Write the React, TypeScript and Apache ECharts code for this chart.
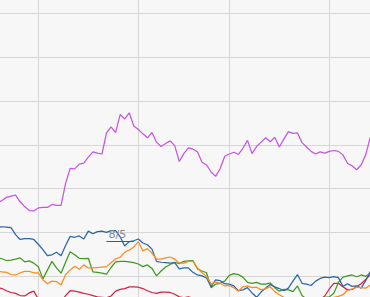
import React, { useEffect, useRef } from "react";
import * as echarts from "echarts";

// Trading days shown (Dec 18 2017 .. Apr 13 2018), weekends and holidays skipped
const firstDay = "2017-12-18";
const lastDay = "2018-04-13";
const holidays = ["2017-12-25", "2018-01-01"];

function tradingDays(): string[] {
  const out: string[] = [];
  const d = new Date(firstDay + "T00:00:00Z");
  const end = new Date(lastDay + "T00:00:00Z").getTime();
  while (d.getTime() <= end) {
    const wd = d.getUTCDay();
    const s = d.toISOString().slice(0, 10);
    if (wd !== 0 && wd !== 6 && holidays.indexOf(s) < 0) out.push(s);
    d.setUTCDate(d.getUTCDate() + 1);
  }
  return out;
}
const categories = tradingDays();

const purple = [
  16.7, 17.3, 18.0, 18.3, 18.5, 17.0, 15.9, 15.0, 14.9,
  15.6, 15.7, 15.7, 16.4, 16.2, 16.2, 21.2, 24.6, 24.5, 25.6,
  25.8, 27.2, 28.4, 28.1, 27.9, 32.7, 34.1, 32.8, 36.9, 35.9,
  37.3, 34.3, 33.5, 32.5, 31.6, 32.8, 30.6, 29.6, 30.3, 30.9,
  29.8, 26.2, 28.0, 29.3, 29.0, 28.4, 26.0, 25.4, 23.8, 22.8,
  24.6, 27.4, 27.9, 28.3, 27.8, 29.2, 31.0, 28.0, 29.6, 30.6,
  31.6, 30.7, 31.7, 29.5, 31.3, 33.0, 32.6, 32.7, 30.5, 29.5,
  28.5, 27.9, 28.4, 28.1, 28.5, 28.7, 28.5, 27.7, 25.8, 25.2,
  24.3, 25.4, 27.7, 31.7,
];

const blue = [
  11.3, 11.3, 11.2, 11.1, 9.5, 8.4, 8.6, 8.6, 8.4,
  7.3, 6.1, 4.7, 4.9, 5.5, 4.7, 7.0, 9.1, 8.9, 9.2,
  8.5, 10.3, 9.7, 10.2, 10.3, 10.0, 10.4, 10.4, 9.0, 6.9,
  7.9, 8.1, 8.5, 7.6, 7.2, 6.2, 3.4, 3.2, 3.1, 3.0,
  3.1, 1.7, 1.9, 1.9, 0.9, 0.3, 0.1, -0.4, -2.4, -0.8,
  -1.0, -1.7, -1.8, -2.2, -3.3, -3.1, -2.6, -3.8, -4.8, -3.6,
  -2.7, -1.9, -2.4, -2.8, -3.3, -2.7, -1.1, 0.4, -1.6, -1.8,
  -2.1, -1.1, -0.5, -0.2, -0.3, -0.1, -0.3, -2.3, -1.7, -2.3,
  -2.2, -2.7, -1.0, 1.1,
];

const orange = [
  1.1, 1.0, 0.9, 0.4, 0.3, 0.8, 1.1, 1.1, 0.8,
  0.8, -0.8, -1.7, -1.1, -1.2, -2.0, 0.4, 1.4, 2.3, 1.6,
  2.6, 1.9, 1.9, 2.0, 2.1, 2.2, 3.1, 4.0, 4.3, 5.5,
  6.0, 6.7, 7.9, 5.8, 6.3, 5.3, 3.9, 3.9, 4.2, 4.4,
  3.9, 3.0, 3.0, 3.4, 3.4, 1.9, 0.8, 0.0, -1.8, -1.3,
  -1.6, -2.2, -2.1, -2.6, -3.4, -2.4, -2.2, -2.6, -2.5, -3.1,
  -2.8, -2.4, -3.5, -4.2, -4.8, -5.2, -5.3, -5.1, -5.2, -5.4,
  -5.3, -5.1, -5.2, -5.1, -5.0, -4.8, -4.6, -4.2, -3.2, -2.9,
  -2.5, -2.6, -2.7, -2.0,
];

const green = [
  4.2, 4.0, 3.6, 3.7, 3.9, 4.2, 3.3, 3.5, 3.0,
  2.2, -0.6, 1.4, 3.4, 1.9, 0.7, 3.2, 5.6, 4.9, 4.1,
  4.0, 4.1, 1.0, 0.9, 0.7, 0.5, 2.0, 3.3, 3.4, 3.4,
  3.3, 3.1, 2.8, 2.2, 2.6, 1.8, 0.1, 1.2, 2.1, 2.7,
  3.2, 2.9, 3.4, 3.5, 3.6, 1.7, 1.2, 0.8, -2.6, -1.8,
  -1.6, -1.1, 0.2, 0.6, 0.4, -0.2, -1.4, -1.6, -1.4, -1.8,
  -1.8, -1.5, -2.6, -3.4, -3.0, -3.1, -3.5, -2.2, -4.4, -5.2,
  -5.4, -5.4, -5.2, -4.8, -4.7, -3.9, -1.4, -0.2, 0.1, 0.3,
  -0.1, 0.3, 0.0, 0.7,
];

const red = [
  -2.6, -2.8, -3.3, -3.7, -3.9, -4.4, -4.5, -3.8, -3.4,
  -5.2, -6.1, -6.5, -6.8, -6.5, -5.9, -4.4, -3.3, -3.4, -3.6,
  -3.9, -4.1, -4.4, -4.7, -4.8, -4.9, -4.5, -3.4, -3.0, -2.8,
  -2.4, -2.4, -2.5, -2.8, -3.3, -3.7, -3.9, -3.6, -3.6, -3.7,
  -4.1, -4.7, -4.9, -4.7, -5.0, -5.5, -6.0, -6.2, -6.3, -6.4,
  -6.5, -6.5, -6.5, -6.4, -6.3, -6.2, -6.2, -6.1, -6.2, -6.3,
  -6.4, -6.5, -6.5, -6.4, -6.3, -6.2, -6.1, -6.1, -6.0, -5.9,
  -5.7, -5.5, -5.3, -4.5, -2.9, -1.6, -1.6, -2.4, -3.1, -3.0,
  -2.4, -1.7, -0.7, 0.3,
];

// annotation segment on the blue series
const noteLabel = "8/5";
const noteStart = 24;
const noteEnd = 30;
const noteValue = 7.9;

const yMin = -10;
const yMax = 70;
const yStep = 10;

export default function App() {
  const ref = useRef<HTMLDivElement>(null);

  useEffect(() => {
    if (!ref.current) return;
    const chart = echarts.init(ref.current, undefined, { renderer: "svg" });
    const monthStart = (index: number) =>
      index > 0 &&
      categories[index].slice(0, 7) !== categories[index - 1].slice(0, 7);

    const mk = (name: string, data: number[], color: string, extra: any = {}) => ({
      name,
      type: "line",
      data,
      symbol: "none",
      showSymbol: false,
      lineStyle: { color, width: 1.25 },
      itemStyle: { color },
      emphasis: { disabled: true },
      ...extra,
    });

    chart.setOption({
      animation: false,
      backgroundColor: "#f7f7f7",
      grid: { left: 27.38, top: 9.5, width: 372.85, height: 350.6, containLabel: false },
      xAxis: {
        type: "category",
        data: categories,
        boundaryGap: false,
        axisLine: { show: false },
        axisTick: { show: false },
        axisLabel: { show: false },
        splitLine: {
          show: true,
          interval: (index: number) => monthStart(index),
          lineStyle: { color: "#d6d6d6", width: 1 },
        },
      },
      yAxis: {
        type: "value",
        min: yMin,
        max: yMax,
        interval: yStep,
        axisLine: { show: false },
        axisTick: { show: false },
        axisLabel: { show: false },
        splitLine: { show: true, lineStyle: { color: "#d6d6d6", width: 1 } },
      },
      series: [
        mk("E", red, "#d62040"),
        mk("D", green, "#3d9a1e"),
        mk("B", blue, "#2a66aa", {
          markLine: {
            symbol: "none",
            silent: true,
            animation: false,
            lineStyle: { color: "#555555", width: 1, type: "solid" },
            label: {
              show: true,
              position: "insideStartTop",
              formatter: noteLabel,
              color: "#888888",
              fontSize: 11,
              fontFamily: "DejaVu Sans, sans-serif",
              distance: 2,
            },
            data: [
              [
                { coord: [categories[noteStart], noteValue] },
                { coord: [categories[noteEnd], noteValue] },
              ],
            ],
          },
        }),
        mk("C", orange, "#ff8a1f"),
        mk("A", purple, "#c656e4"),
      ],
    });
    return () => chart.dispose();
  }, []);

  return (
    <div
      style={{
        position: "fixed",
        left: 0,
        top: 0,
        width: 370,
        height: 297,
        overflow: "hidden",
        background: "#f7f7f7",
      }}
    >
      <div
        ref={ref}
        style={{ position: "absolute", left: -30, top: -40, width: 430, height: 400 }}
      />
    </div>
  );
}
